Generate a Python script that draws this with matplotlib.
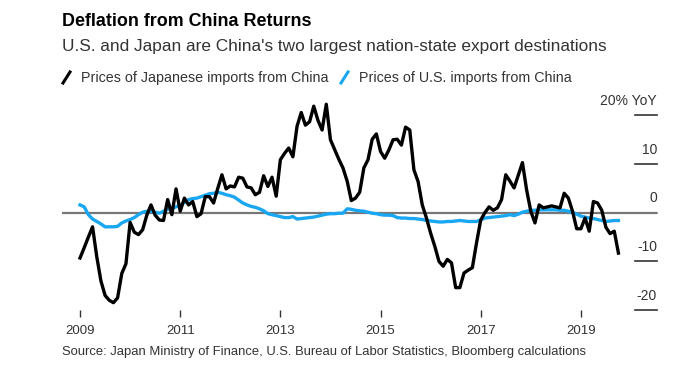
import numpy as np
import matplotlib
matplotlib.use("Agg")
import matplotlib.pyplot as plt
from matplotlib.lines import Line2D

plt.rcParams['font.family'] = ['Liberation Sans', 'DejaVu Sans']

# Monthly values from Jan 2009, % YoY
japan = [-9.3, -7.2, -5.0, -2.9, -9.0, -14.0, -17.0, -18.0, -18.5, -17.5,
         -12.5, -10.5, -2.0, -4.0, -4.5, -3.5, -0.5, 1.6, -0.5, -1.5,
         -1.6, 2.7, -0.4, 4.9, 0.3, 3.0, 1.6, 2.3, -0.8, -0.2,
         3.3, 3.3, 2.0, 5.0, 7.8, 4.9, 5.5, 5.3, 7.3, 7.1,
         5.3, 5.1, 3.7, 4.2, 7.6, 5.4, 7.3, 3.4, 10.9, 12.2,
         13.3, 11.5, 17.8, 20.6, 18.0, 18.7, 21.9, 19.0, 17.0, 22.3,
         15.0, 13.0, 11.0, 9.2, 6.5, 2.5, 3.0, 4.2, 9.2, 10.9,
         15.1, 16.2, 12.6, 11.2, 12.9, 15.0, 15.1, 13.9, 17.6, 17.0,
         8.8, 6.4, 1.6, -1.1, -4.2, -6.9, -10.0, -11.0, -9.6, -10.3,
         -15.4, -15.4, -12.4, -11.8, -11.3, -6.2, -1.5, 0.0, 1.2, 0.5,
         1.0, 2.7, 7.8, 6.5, 5.1, 7.7, 10.3, 4.7, 0.3, -2.1,
         1.6, 1.0, 1.2, 1.4, 1.2, 1.0, 4.0, 3.0, 0.3, -3.3,
         -3.3, -1.1, -3.8, 2.3, 2.0, 0.5, -3.0, -4.3, -3.8, -8.3]

us = [1.6, 1.2, -0.4, -1.3, -1.8, -2.3, -2.9, -2.9, -2.9, -2.8,
      -2.1, -1.7, -1.4, -1.0, -0.4, 0.1, 0.3, 0.3, 0.1, -0.1,
      0.3, 0.7, 0.9, 1.2, 1.5, 2.1, 2.7, 2.9, 3.0, 3.3,
      3.6, 3.9, 4.0, 4.2, 4.0, 3.7, 3.5, 3.2, 2.6, 2.0,
      1.6, 1.3, 1.1, 0.8, 0.4, -0.2, -0.4, -0.6, -0.8, -1.0,
      -1.0, -0.8, -1.3, -1.2, -1.1, -1.0, -0.9, -0.7, -0.5, -0.3,
      -0.2, -0.2, -0.1, -0.1, 0.8, 0.7, 0.5, 0.4, 0.3, 0.1,
      -0.1, -0.2, -0.4, -0.5, -0.5, -0.6, -1.0, -1.1, -1.1, -1.2,
      -1.2, -1.3, -1.4, -1.6, -1.7, -1.8, -1.9, -1.9, -1.8, -1.8,
      -1.7, -1.6, -1.7, -1.8, -1.8, -1.8, -1.5, -1.1, -1.0, -0.9,
      -0.8, -0.7, -0.6, -0.4, -0.6, -0.3, 0.1, 0.3, 0.5, 0.5,
      0.6, 0.6, 0.6, 0.6, 0.6, 0.5, 0.5, 0.3, 0.1, -0.3,
      -0.7, -0.9, -1.1, -1.2, -1.4, -1.6, -1.8, -1.7, -1.6, -1.6]

years = [2009, 2011, 2013, 2015, 2017, 2019]
yticks = [20, 10, 0, -10, -20]
ylabels = ["20% YoY", "10", "0", "-10", "-20"]

t = 2009 + np.arange(len(japan)) / 12

fig = plt.figure(figsize=(6.79, 3.86), dpi=100)
ax = fig.add_axes([62 / 679, 76 / 386, 595 / 679, 215 / 386])

ax.axhline(0, color="#777777", lw=1.6, zorder=1)
ax.plot(t, us, color="#1aa7f2", lw=2.4, zorder=2)
ax.plot(t, japan, color="black", lw=2.4, zorder=3)

ax.set_xlim(2008.64, 2020.52)
ax.set_ylim(-20, 24.2)

# y labels sit above short lines on the right
for v, lab in zip(yticks, ylabels):
    ax.plot([0.963, 1.0], [v, v], transform=ax.get_yaxis_transform(),
            color="#333333" if v != 0 else "#777777", lw=1.2, clip_on=False)
    ax.text(1.0, v + 1.5, lab, transform=ax.get_yaxis_transform(),
            ha="right", va="bottom", fontsize=10, color="#333333")

ax.set_yticks([])
ax.set_xticks(years)
ax.set_xticklabels([str(y) for y in years])
ax.tick_params(axis="x", length=5, width=1, color="#333333", labelsize=9.5,
               labelcolor="#333333", pad=6)
for s in ax.spines.values():
    s.set_visible(False)

fig.text(62 / 679, 1 - 21 / 386, "Deflation from China Returns",
         fontsize=12.9, fontweight="bold", va="center", color="black")
fig.text(62 / 679, 1 - 47 / 386,
         "U.S. and Japan are China's two largest nation-state export destinations",
         fontsize=12.4, va="center", color="#333333")

# legend with slanted line icons
for x0, col, lab in [(63, "black", "Prices of Japanese imports from China"),
                     (341, "#1aa7f2", "Prices of U.S. imports from China")]:
    fig.add_artist(Line2D([x0 / 679, (x0 + 7) / 679],
                          [1 - 83 / 386, 1 - 72 / 386], color=col, lw=2.2))
    fig.text((x0 + 18) / 679, 1 - 78 / 386, lab, fontsize=10.3,
             va="center", color="#333333")

fig.text(62 / 679, 1 - 352 / 386,
         "Source: Japan Ministry of Finance, U.S. Bureau of Labor Statistics, Bloomberg calculations",
         fontsize=9.4, va="center", color="#333333")

fig.savefig("out.png", dpi=100)
